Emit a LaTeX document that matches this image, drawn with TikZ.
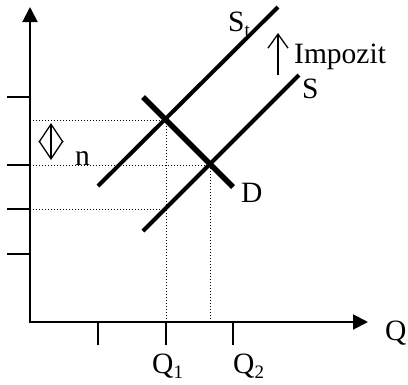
\documentclass[tikz,border=0pt]{standalone}
\usepackage{fontspec}
\setmainfont{Liberation Serif}
\usetikzlibrary{arrows.meta}
\newcommand\mysub[1]{\raisebox{-5pt}{\fontsize{19}{19}\selectfont #1}}
\begin{document}
\begin{tikzpicture}[x=1pt,y=-1pt,
  axis/.style={line width=2pt, line join=miter},
  curve/.style={line width=4pt},
  dcurve/.style={line width=5.5pt},
  guide/.style={line width=1pt, dash pattern=on 1pt off 2pt},
  tick/.style={line width=2pt},
  thinarrow/.style={line width=1.3pt},
  lbl/.style={font=\fontsize{29.5}{30}\selectfont, inner sep=0pt, anchor=base west},
  ]
\useasboundingbox (0,0) rectangle (408,384);
% axes
\coordinate (O) at (30,322);
\coordinate (Ytop) at (30,7);
\coordinate (Xend) at (368,322);
\draw[axis, {Triangle[length=15pt,width=15pt]}-{Triangle[length=15pt,width=15pt]}] (Ytop) -- (O) -- (Xend);
% y ticks
\foreach \yy/\nm in {97/ya,165/yb,209/yc,254/yd}{
  \coordinate (\nm a) at (7,\yy);
  \coordinate (\nm b) at (30,\yy);
  \draw[tick] (\nm a) -- (\nm b);
}
% x ticks
\foreach \xx/\nm in {98/xa,166/xb,233/xc}{
  \coordinate (\nm a) at (\xx,322);
  \coordinate (\nm b) at (\xx,345);
  \draw[tick] (\nm a) -- (\nm b);
}
% key points
\coordinate (E1) at (166,120);
\coordinate (E2) at (210,165);
\coordinate (E3) at (166,209);
\coordinate (L1) at (30,120);
\coordinate (L2) at (30,165);
\coordinate (L3) at (30,209);
\coordinate (B1) at (166,322);
\coordinate (B2) at (210,322);
% guides
\draw[guide] (L1) -- (E1);
\draw[guide] (L2) -- (E2);
\draw[guide] (L3) -- (E3);
\draw[guide] (E1) -- (B1);
\draw[guide] (E2) -- (B2);
% curves
\coordinate (St1) at (98,186);
\coordinate (St2) at (278,7);
\coordinate (S1) at (143,231);
\coordinate (S2) at (299,75);
\coordinate (D1) at (143,97);
\coordinate (D2) at (233,187);
\draw[curve] (St1) -- (St2);
\draw[curve] (S1) -- (S2);
\draw[dcurve] (D1) -- (D2);
% tax arrow
\coordinate (T1) at (278,75);
\coordinate (T2) at (278,33);
\draw[thinarrow, -{Straight Barb[length=14pt,width=20pt]}] (T1) -- (T2);
% double arrow
\coordinate (N1) at (51,160);
\coordinate (N2) at (51,123);
\draw[thinarrow, {Straight Barb[length=18pt,width=24pt]}-{Straight Barb[length=18pt,width=24pt]}] (N1) -- (N2);
% labels
\node[lbl] (lSt) at (228,31) {S\mysub{t}};
\node[lbl] (lS) at (302,98) {S};
\node[lbl] (lImp) at (294,63) {Impozit};
\node[lbl] (lD) at (241,202) {D};
\node[lbl] (ln) at (75,165) {n};
\node[lbl] (lQ) at (385,340) {Q};
\node[lbl] (lQ1) at (152,373) {Q\mysub{1}};
\node[lbl] (lQ2) at (233,373) {Q\mysub{2}};
\end{tikzpicture}
\end{document}
